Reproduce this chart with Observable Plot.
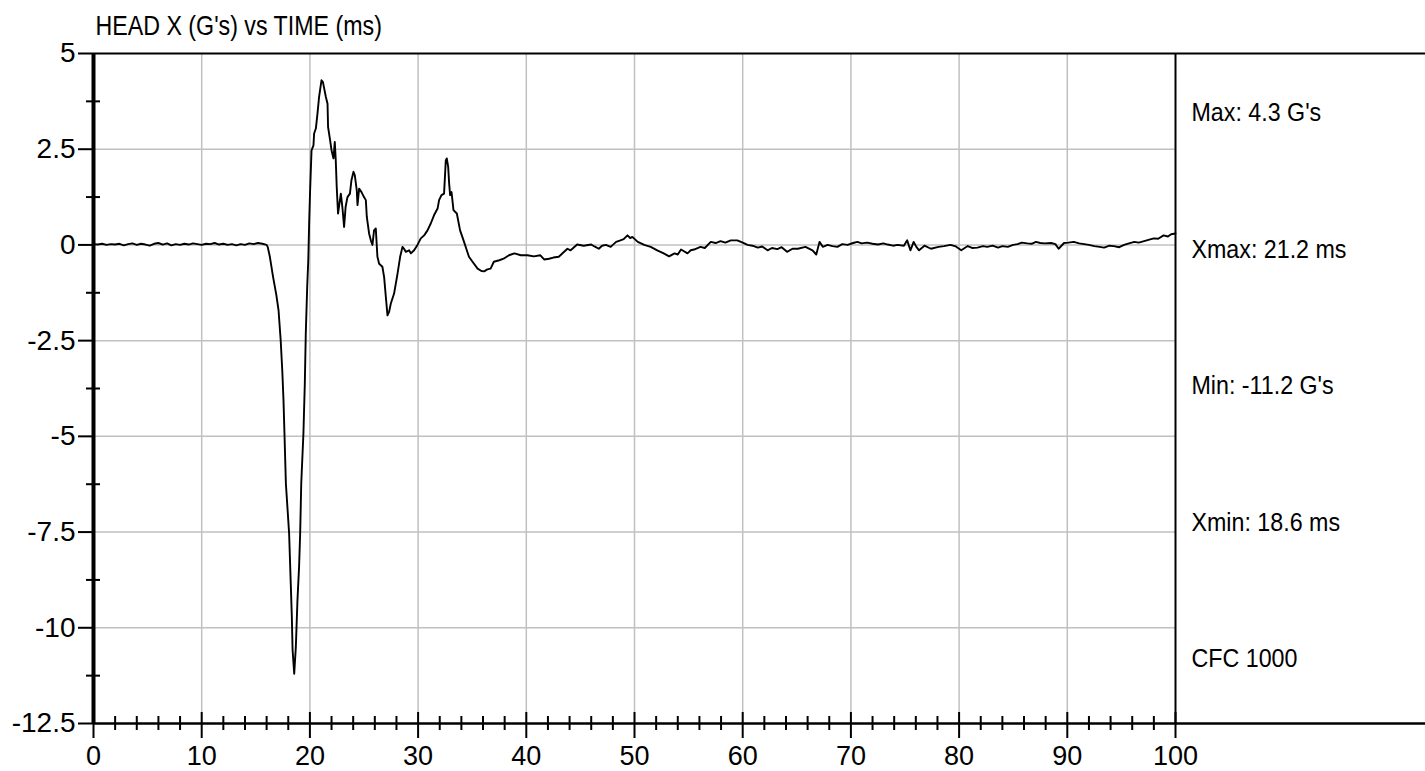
<!DOCTYPE html>
<html><head><meta charset="utf-8">
<script src="https://cdn.jsdelivr.net/npm/d3@7"></script>
<script src="https://cdn.jsdelivr.net/npm/@observablehq/plot@0.6"></script>
<style>body{margin:0;background:#fff}#chart{width:1425px;height:771px}</style>
</head><body><div id="chart"></div>
<script>
const timeMs = [0,0.4,0.8,1.2,1.6,2.0,2.4,2.8,3.2,3.6,4.0,4.4,4.8,5.2,5.6,6.0,6.4,6.8,7.2,7.6,8.0,8.4,8.8,9.2,9.6,10.0,10.4,10.8,11.2,11.6,12.0,12.4,12.8,13.2,13.6,14.0,14.4,14.8,15.2,15.6,16.0,
16.1,16.3,16.6,16.9,17.1,17.3,17.45,17.56,17.65,17.78,18.08,18.23,18.33,18.4,18.55,18.7,18.85,19.0,19.1,19.2,19.4,19.53,19.62,19.75,19.85,19.93,20.02,20.15,20.33,20.39,20.55,20.7,20.85,21.07,21.2,21.47,21.63,21.68,21.87,22.0,22.18,22.3,22.39,22.48,22.6,22.86,23.0,23.16,23.3,23.47,23.7,23.84,24.03,24.15,24.33,24.4,24.55,24.77,25.0,25.17,25.26,25.47,25.63,25.78,25.93,26.09,26.24,26.4,26.7,26.86,27.02,27.17,27.32,27.48,27.78,28.1,28.34,28.56,28.7,28.86,29.17,29.33,29.63,29.94,30.25,30.56,30.87,31.17,31.48,31.8,31.94,32.16,32.4,32.56,32.65,32.78,32.87,32.96,33.09,33.27,33.58,33.88,34.2,34.5,34.7,35.03,35.5,35.85,36.1,36.4,36.7,37.0,37.5,37.9,38.4,38.9,39.5,40.1,40.7,41.3,41.65,42.1,42.5,43.0,43.5,43.8,44.1,44.7,45.3,46.0,46.3,46.7,47.0,47.35,47.8,48.3,48.7,49.0,49.35,49.6,49.8,50.3,50.9,51.5,52.1,52.7,53.2,53.7,54.0,54.3,54.9,55.2,55.5,56.1,56.5,57.05,57.5,57.95,58.4,58.9,59.5,60.0,60.45,60.9,61.4,61.8,62.3,62.7,63.2,63.6,64.1,64.6,65.1,65.8,66.45,66.8,67.1,67.4,67.85,68.3,68.75,69.2,69.7,70.2,70.6,71.0,71.5,72.0,72.5,73.0,73.4,73.9,74.3,74.9,75.2,75.5,75.8,76.05,76.3,76.8,77.4,78.1,78.6,79.2,79.7,80.2,80.8,81.2,81.7,82.2,82.6,83.1,83.6,84.0,84.5,85.0,85.4,85.8,86.3,86.7,87.1,87.5,87.9,88.5,88.9,89.2,89.7,90.1,90.6,91.1,91.55,92.0,92.5,93.0,93.4,93.9,94.3,94.8,95.25,95.7,96.2,96.6,97.1,97.5,98.0,98.4,98.9,99.3,99.6,100];
const headXG = [0.02,0.01,0.03,0.0,0.02,0.01,0.03,-0.01,0.02,0.04,0.0,0.03,0.01,-0.02,0.03,0.05,0.01,0.04,-0.01,0.02,0.0,0.03,0.01,0.04,0.02,0.0,0.03,0.02,0.05,0.01,0.03,0.0,0.02,-0.01,0.02,0.0,0.04,0.02,0.05,0.03,0.0,
-0.05,-0.31,-0.84,-1.31,-1.7,-2.49,-3.3,-4.06,-4.93,-6.23,-7.54,-8.84,-9.71,-10.58,-11.2,-10.5,-9.28,-8.41,-7.54,-6.23,-4.93,-3.62,-2.31,-1.1,-0.4,0.56,1.43,2.47,2.6,2.91,3.04,3.43,3.87,4.3,4.26,3.87,3.69,3.08,2.73,2.47,2.26,2.69,2.21,1.51,0.82,1.34,0.99,0.47,0.99,1.25,1.34,1.69,1.91,1.82,1.43,1.04,1.47,1.38,1.25,1.17,0.73,0.3,0.12,0.0,0.38,0.43,-0.31,-0.49,-0.57,-0.84,-1.36,-1.84,-1.75,-1.53,-1.27,-0.75,-0.31,-0.05,-0.1,-0.18,-0.14,-0.22,-0.14,0.0,0.17,0.25,0.38,0.56,0.78,0.95,1.17,1.3,1.34,2.21,2.26,2.04,1.6,1.3,1.38,0.91,0.82,0.38,0.12,-0.14,-0.31,-0.44,-0.62,-0.68,-0.69,-0.64,-0.62,-0.44,-0.4,-0.36,-0.27,-0.22,-0.27,-0.27,-0.3,-0.27,-0.38,-0.36,-0.33,-0.31,-0.18,-0.1,-0.14,0.01,-0.02,0.01,-0.04,-0.1,-0.02,0.0,-0.05,0.08,0.12,0.15,0.25,0.18,0.21,0.08,0.0,-0.05,-0.14,-0.22,-0.3,-0.22,-0.25,-0.12,-0.22,-0.14,-0.12,-0.05,-0.08,0.08,0.05,0.1,0.06,0.12,0.12,0.06,0.0,-0.02,-0.07,-0.04,-0.14,-0.08,-0.11,-0.06,-0.18,-0.1,-0.1,-0.05,-0.14,-0.25,0.08,-0.05,0.0,-0.03,-0.05,0.02,0.0,0.05,0.08,0.04,0.06,0.03,0.01,0.04,0.01,-0.02,0.0,-0.02,0.12,-0.14,0.08,-0.05,-0.14,-0.02,-0.1,-0.05,-0.03,0.0,-0.04,-0.14,-0.03,-0.08,-0.07,-0.03,-0.05,-0.02,-0.07,-0.03,-0.05,0.0,0.02,0.06,0.04,0.03,0.08,0.05,0.04,0.05,0.02,-0.1,0.05,0.06,0.08,0.04,0.02,0.0,-0.03,-0.05,-0.07,-0.02,-0.03,-0.06,0.0,0.04,0.08,0.06,0.1,0.13,0.17,0.16,0.25,0.22,0.28,0.3];

const yMajorTicks = [5, 2.5, 0, -2.5, -5, -7.5, -10, -12.5];
const yMinorTicks = [3.75, 1.25, -1.25, -3.75, -6.25, -8.75, -11.25];
const xMajorTicks = [0, 10, 20, 30, 40, 50, 60, 70, 80, 90, 100];
const xMinorTicks = [2,4,6,8,12,14,16,18,22,24,26,28,32,34,36,38,42,44,46,48,52,54,56,58,62,64,66,68,72,74,76,78,82,84,86,88,92,94,96,98];
const xGridTicks = [10, 20, 30, 40, 50, 60, 70, 80, 90];
const yGridTicks = [2.5, 0, -2.5, -5, -7.5, -10];
const chartTitle = "HEAD X (G's) vs TIME (ms)";
const statLabels = ["Max: 4.3 G's", "Xmax: 21.2 ms", "Min: -11.2 G's", "Xmin: 18.6 ms", "CFC 1000"];

const narrow = "'Liberation Sans Narrow','Arial Narrow','Liberation Sans',sans-serif";
const data = timeMs.map((t, i) => ({t, g: headXG[i]}));
const fmt = d => String(d);

const plot = Plot.plot({
  width: 1425, height: 771,
  marginLeft: 93, marginRight: 250, marginTop: 53, marginBottom: 48,
  style: {fontFamily: "'Liberation Sans', Arial, sans-serif", background: "#fff", color: "#000"},
  x: {domain: [0, 100], axis: null},
  y: {domain: [-12.5, 5], axis: null},
  marks: [
    Plot.gridX(xGridTicks, {stroke: "#c0c0c0", strokeOpacity: 1, strokeWidth: 1.5}),
    Plot.gridY(yGridTicks, {stroke: "#c0c0c0", strokeOpacity: 1, strokeWidth: 1.5}),
    Plot.line(data, {x: "t", y: "g", stroke: "#000", strokeWidth: 1.9}),
    Plot.ruleY([5], {x1: 0, x2: 125, stroke: "#000", strokeWidth: 2}),
    Plot.ruleY([-12.5], {x1: 0, x2: 125, stroke: "#000", strokeWidth: 2.5}),
    Plot.ruleX([100], {stroke: "#000", strokeWidth: 2}),
    Plot.ruleX([0], {stroke: "#000", strokeWidth: 4}),
    Plot.axisY(yMajorTicks, {anchor: "left", tickSize: 15, tickPadding: 3, fontSize: 28, stroke: "#000", fill: "#000", strokeWidth: 2, tickFormat: fmt, label: null}),
    Plot.axisY(yMinorTicks, {anchor: "left", tickSize: 14, dx: 7, stroke: "#000", fill: "none", strokeWidth: 2, label: null}),
    Plot.axisX(xMinorTicks, {anchor: "bottom", tickSize: 14, dy: -7, stroke: "#000", fill: "none", strokeWidth: 2, label: null}),
    Plot.axisX(xMajorTicks, {anchor: "bottom", tickSize: 26, dy: -11, stroke: "#000", fill: "none", strokeWidth: 2, label: null}),
    Plot.axisX(xMajorTicks, {anchor: "bottom", tickSize: 0, tickPadding: 22, fontSize: 27, stroke: "none", fill: "#000", tickFormat: fmt, label: null}),
    Plot.text([chartTitle], {frameAnchor: "top-left", textAnchor: "start", lineAnchor: "middle", dx: 2, dy: -27, fontSize: 27, fontFamily: narrow, fill: "#000"}),
    Plot.text([statLabels.join("\n")], {frameAnchor: "top-right", textAnchor: "start", lineAnchor: "top", dx: 16, dy: -29, fontSize: 25, lineHeight: 5.46, fontFamily: narrow, fill: "#000"})
  ]
});

// narrow the annotation text (no condensed font is installed)
function squeeze(prefix, sx) {
  const t = [...plot.querySelectorAll("text")].find(e => e.textContent.startsWith(prefix));
  if (!t) return;
  const w = document.createElementNS("http://www.w3.org/2000/svg", "g");
  t.parentNode.insertBefore(w, t);
  w.appendChild(t);
  w.style.transformBox = "fill-box";
  w.style.transformOrigin = "0 50%";
  w.style.transform = `scaleX(${sx})`;
}
squeeze("HEAD X", 0.86);
squeeze("Max:", 0.93);
document.getElementById("chart").appendChild(plot);
</script>
</body></html>
